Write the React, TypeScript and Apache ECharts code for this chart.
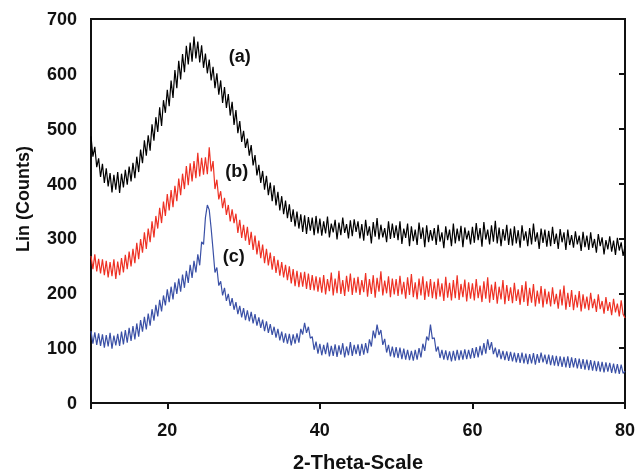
import React, { useEffect, useRef } from "react";
import * as echarts from "echarts";

// 2-theta sampling grid
const X_START = 10;
const X_STEP = 0.25;

const X_TICKS = [20, 40, 60, 80];

// (a) black
const seriesA = [
  486,449,467,430,446,412,436,401,428,395,419,384,416,389,421,383,418,393,425,398,
  431,404,438,410,449,421,462,437,479,451,488,460,508,478,521,494,539,505,552,529,
  571,541,588,556,607,574,624,590,636,603,651,617,657,622,668,628,659,621,652,611,
  637,601,626,588,613,574,601,562,588,547,576,538,563,524,549,507,534,492,514,476,
  496,465,482,451,470,433,452,415,434,401,423,389,414,379,402,368,397,360,385,351,
  377,344,369,337,362,330,353,322,349,318,344,312,342,308,339,314,338,306,341,309,
  336,305,331,309,340,302,327,311,334,298,329,306,338,310,326,300,333,304,335,312,
  331,300,326,296,334,305,322,291,330,303,337,298,325,302,319,293,331,299,327,301,
  324,297,331,290,318,301,327,286,322,295,316,288,329,299,320,284,324,293,315,296,
  319,288,325,294,311,282,322,297,316,286,327,291,318,295,323,284,320,298,314,289,
  321,292,328,297,319,285,330,298,316,289,324,294,332,291,320,286,317,296,325,288,
  318,287,322,291,315,283,324,296,313,286,319,289,327,294,311,281,318,292,316,285,
  314,286,321,290,309,281,317,293,311,279,316,288,306,283,313,289,305,277,312,284,
  305,279,311,283,299,274,308,286,302,271,297,280,304,276,296,270,301,278,293,268,
  286,
];

// (b) red
const seriesB = [
  268,244,271,240,263,236,262,233,259,229,257,231,262,226,258,233,264,238,270,244,
  276,249,281,255,292,262,299,274,311,281,318,293,331,302,341,318,356,328,367,341,
  381,351,388,357,396,368,409,379,418,390,432,397,437,404,441,410,456,413,447,416,
  448,417,466,422,441,390,407,371,386,355,374,343,361,331,353,328,345,310,334,301,
  325,296,321,288,312,279,305,271,296,264,289,255,281,251,274,243,268,237,261,232,
  257,229,252,224,249,218,244,213,241,211,238,212,239,208,236,206,233,205,231,203,
  229,201,233,198,226,204,238,196,227,200,241,199,224,195,232,203,236,197,228,201,
  230,197,224,202,237,194,226,199,233,192,228,203,240,196,223,200,231,193,227,198,
  226,195,232,198,221,190,229,197,235,193,220,189,227,196,231,188,222,194,226,191,
  221,189,227,194,218,186,230,192,219,187,224,191,233,188,217,193,225,185,220,190,
  218,187,226,191,214,184,222,190,229,183,216,188,221,181,212,189,224,180,215,186,
  211,182,219,186,207,179,215,184,222,177,210,183,217,176,205,181,213,174,208,180,
  203,176,211,180,199,172,207,178,214,170,201,175,206,169,197,174,204,167,198,172,
  194,169,201,173,190,166,198,171,186,163,193,168,184,160,190,165,181,158,187,162,
  155,
];

// (c) blue
const seriesC = [
  131,108,129,106,127,104,125,101,124,103,128,99,123,105,126,104,130,107,133,110,
  137,113,140,116,145,121,151,130,157,134,163,141,171,150,179,158,188,167,196,178,
  207,184,212,189,220,199,227,203,234,210,241,219,252,228,259,238,271,251,294,289,
  338,361,352,318,279,238,247,214,222,196,210,186,199,177,191,170,184,162,177,156,
  173,151,169,149,166,145,162,141,156,137,152,131,149,128,144,124,139,119,135,114,
  130,110,127,108,126,105,125,108,127,110,135,125,146,128,139,118,121,97,112,90,
  108,87,106,89,110,85,104,86,107,84,105,88,109,83,103,87,111,86,106,89,
  107,86,108,88,109,91,116,103,132,118,143,124,133,106,117,92,106,85,103,83,
  102,82,101,80,99,79,97,78,95,77,97,79,100,83,108,95,121,114,143,117,
  119,94,103,82,97,79,96,78,94,76,95,77,97,78,96,79,98,80,97,81,
  100,82,102,83,104,87,109,90,116,97,111,89,101,83,98,80,95,78,94,77,
  93,76,92,74,91,73,92,72,90,71,89,72,91,70,89,73,92,74,88,71,
  88,69,87,68,86,67,85,66,84,65,85,64,83,65,82,63,81,62,80,61,
  79,60,78,59,77,58,76,57,75,56,74,57,73,55,72,54,71,53,70,54,
  58,
];

const LABELS = ["(a)", "(b)", "(c)"];
const LABEL_COORDS: [number, number][] = [
  [29.5, 632],
  [29.1, 423],
  [28.7, 268],
];

const COLORS = ["#000000", "#ee3124", "#3a50a6"];

const X_MIN = 10;
const X_MAX = 80;
const X_TICK_STEP = 20;

const toPairs = (vals: number[]) => vals.map((v, i) => [X_START + i * X_STEP, v]);

export default function App() {
  const ref = useRef<HTMLDivElement>(null);
  useEffect(() => {
    if (!ref.current) return;
    const chart = echarts.init(ref.current, null, { renderer: "svg" });
    const font = "Arial, Liberation Sans, sans-serif";
    const all = [seriesA, seriesB, seriesC];
    chart.setOption({
      animation: false,
      grid: {
        left: 91,
        right: 11,
        top: 19,
        bottom: 70,
        outerBoundsMode: "none",
        show: true,
        borderColor: "#111111",
        borderWidth: 2,
      },
      xAxis: [
        {
          type: "value",
          min: X_MIN,
          max: X_MAX,
          name: "2-Theta-Scale",
          nameLocation: "middle",
          nameGap: 49,
          nameTextStyle: { fontFamily: font, fontWeight: "bold", fontSize: 20, color: "#111" },
          axisLine: { show: true, onZero: false, lineStyle: { color: "#111111", width: 2 } },
          axisTick: { show: false },
          axisLabel: { fontFamily: font, fontWeight: "bold", fontSize: 18, color: "#111", margin: 18, customValues: X_TICKS },
          splitLine: { show: false },
        },
        {
          // tick-only axis: measured from the right end (80) so ticks fall on 80, 60, 40, 20
          type: "value",
          position: "bottom",
          inverse: true,
          min: 0,
          max: X_MAX - X_MIN,
          interval: X_TICK_STEP,
          axisLine: { show: false, onZero: false },
          axisTick: { show: true, length: 6, lineStyle: { color: "#111111", width: 2 } },
          axisLabel: { show: false },
          splitLine: { show: false },
        },
      ],
      yAxis: {
        type: "value",
        min: 0,
        max: 700,
        interval: 100,
        axisLine: { show: true, lineStyle: { color: "#111111", width: 2 } },
        axisTick: { show: true, length: 6, lineStyle: { color: "#111111", width: 2 } },
        axisLabel: { fontFamily: font, fontWeight: "bold", fontSize: 18, color: "#111", margin: 14 },
        splitLine: { show: false },
      },
      graphic: [
        {
          type: "text",
          x: 23,
          y: 199,
          rotation: Math.PI / 2,
          style: {
            text: "Lin (Counts)",
            fontFamily: font,
            fontWeight: "bold",
            fontSize: 18,
            fill: "#111",
            align: "center",
            verticalAlign: "middle",
          },
        },
      ],
      series: all.map((vals, i) => ({
        type: "line",
        xAxisIndex: 0,
        data: toPairs(vals),
        showSymbol: false,
        symbol: "none",
        lineStyle: { color: COLORS[i], width: 1.2 },
        itemStyle: { color: COLORS[i] },
        markPoint: {
          symbol: "circle",
          symbolSize: 1,
          itemStyle: { color: "rgba(0,0,0,0)" },
          label: {
            show: true,
            position: "inside",
            formatter: LABELS[i],
            fontFamily: font,
            fontWeight: "bold",
            fontSize: 18,
            color: "#111",
          },
          data: [{ coord: LABEL_COORDS[i] }],
        },
      })),
    });
    return () => chart.dispose();
  }, []);
  return <div ref={ref} style={{ position: "fixed", left: 0, top: 0, width: 636, height: 473 }} />;
}
